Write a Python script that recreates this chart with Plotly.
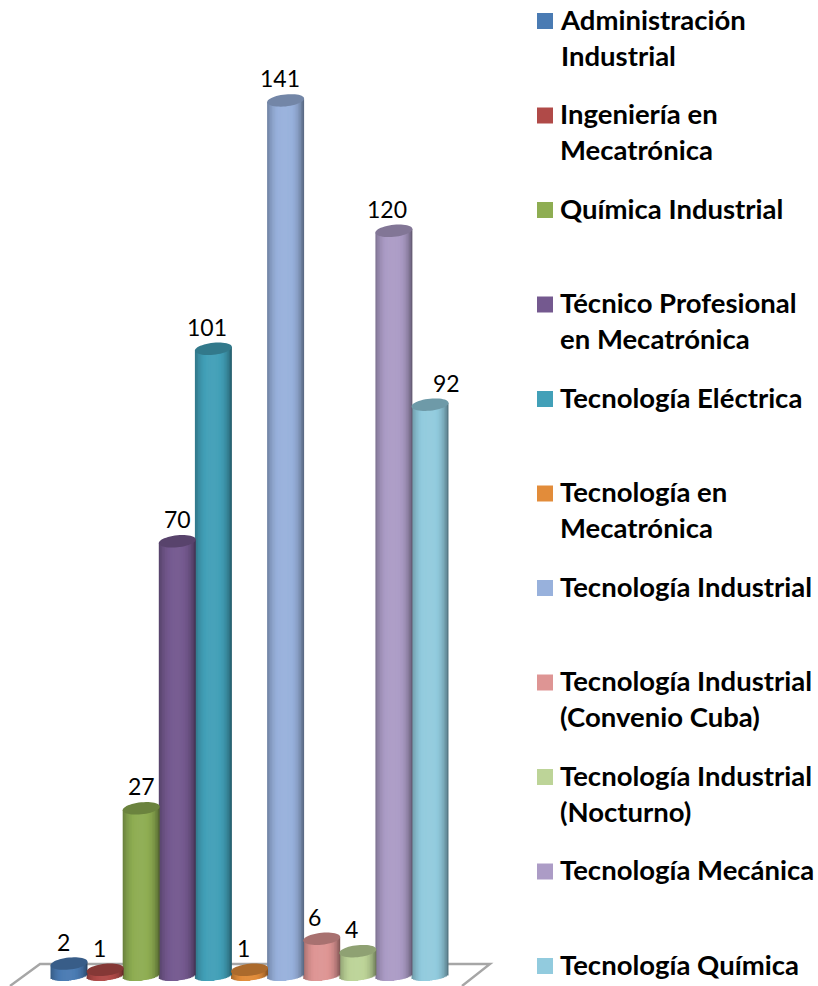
import math
import plotly.graph_objects as go

categories = ["Administración<br>Industrial", "Ingeniería en<br>Mecatrónica", "Química Industrial",
              "Técnico Profesional<br>en Mecatrónica", "Tecnología Eléctrica", "Tecnología en<br>Mecatrónica",
              "Tecnología Industrial", "Tecnología Industrial<br>(Convenio Cuba)",
              "Tecnología Industrial<br>(Nocturno)", "Tecnología Mecánica", "Tecnología Química"]
values = [2, 1, 27, 70, 101, 1, 141, 6, 4, 120, 92]
colors = ["#4A7BB3", "#B04A48", "#8EAD52", "#74598F", "#42A0B8", "#E28C3A",
          "#98B1DC", "#DE9594", "#BDD498", "#AC9CC6", "#92CBDE"]
label_dx = [-6, -6, 0, 0, -6, -6, -6, -7, -6, -7, 16]

W, H = 818, 986
PITCH, X0 = 36.1, 69.0      # px per category, px of first centre
PXU, Y0 = 6.21, 976.0       # px per value unit, px of zero
HALF_W = 18.5 / PITCH       # cylinder half width (x units)
ELL = 6.0 / PXU             # cap half height (y units)
ELL_BOTTOM = 4.5 / PXU      # base curve depth (y units)
TILT = 1.8 / PXU            # cap tilt at rim (y units)
N = 12                      # strips per half cylinder


def rgb(c, f):
    r, g, b = int(c[1:3], 16), int(c[3:5], 16), int(c[5:7], 16)
    if f > 1:
        r, g, b = [v + (255 - v) * (f - 1) for v in (r, g, b)]
    else:
        r, g, b = [v * f for v in (r, g, b)]
    return f"rgb({int(r)},{int(g)},{int(b)})"


def shade(u):
    # brightest just left of centre, falling away to both rims
    f = 1.03 - 0.34 * abs(u + 0.05) ** 2.6
    return f - (0.10 * u ** 6 if u > 0 else 0)


fig = go.Figure()
xs = list(range(len(values)))
for k in range(N):
    for side in (-1, 1):
        # outermost strips first; each reaches to the axis so inner ones paint over without seams
        u_out = side * (1 - k / N)
        u_in = side * (1 - (k + 1) / N)
        u = (u_out + u_in) / 2
        down = ELL_BOTTOM * math.sqrt(max(0, 1 - u * u)) - TILT * u
        top = TILT * u
        left = min(u_out, 0) * HALF_W
        width = abs(u_out) * HALF_W
        fig.add_trace(go.Bar(
            x=xs, y=[v + top + down for v in values], base=[-down] * len(values),
            width=width, offset=left,
            marker=dict(color=[rgb(c, shade(u)) for c in colors], line_width=0),
            showlegend=False, hoverinfo="skip"))

shapes = [dict(type="path", xref="paper", yref="paper", layer="below",
               path=f"M {10/W} {1-986/H} L {40/W} {1-964/H} L {490/W} {1-964/H} L {462/W} {1-986/H}",
               line=dict(color="#A6A6A6", width=2.4))]
for i, (v, c) in enumerate(zip(values, colors)):
    pts = []
    for a in range(49):
        t = a / 48 * 2 * math.pi
        pts.append((i + HALF_W * math.cos(t), v + ELL * math.sin(t) + TILT * math.cos(t)))
    path = "M " + " L ".join(f"{x:.4f} {y:.4f}" for x, y in pts) + " Z"
    shapes.append(dict(type="path", path=path, xref="x", yref="y", layer="above",
                       fillcolor=rgb(c, 0.76), line_width=0))

annotations = [dict(x=i, y=v, text=str(v), showarrow=False, xshift=dx, yshift=22,
                    font=dict(family="Lato", size=23, color="#000"))
               for i, (v, dx) in enumerate(zip(values, label_dx))]

# Legend, pitched evenly with the swatch on each entry's first line
LEG_Y0, LEG_PITCH, LINE = 21.0, 94.5, 35.75
for i, (name, c) in enumerate(zip(categories, colors)):
    cy = LEG_Y0 + LEG_PITCH * i
    shapes.append(dict(type="rect", xref="paper", yref="paper", x0=537 / W, x1=553 / W,
                       y0=1 - (cy + 8) / H, y1=1 - (cy - 8) / H, fillcolor=c, line_width=0))
    annotations.append(dict(xref="paper", yref="paper", x=559 / W, y=1 - (cy - LINE / 2 - 1.5) / H,
                            xanchor="left", yanchor="top", align="left", showarrow=False, text=name,
                            borderpad=0, font=dict(family="Lato", size=27.5, color="#000", weight="bold")))

fig.update_layout(
    width=W, height=H, margin=dict(l=0, r=0, t=0, b=0), barmode="overlay", showlegend=False,
    paper_bgcolor="white", plot_bgcolor="rgba(0,0,0,0)", shapes=shapes, annotations=annotations,
    xaxis=dict(visible=False, range=[-X0 / PITCH, (W - X0) / PITCH], fixedrange=True),
    yaxis=dict(visible=False, range=[-(H - Y0) / PXU, Y0 / PXU], fixedrange=True),
)
fig.write_html("out.html", config={"displayModeBar": False},
               post_script="document.body.style.margin='0';document.body.style.overflow='hidden';")
